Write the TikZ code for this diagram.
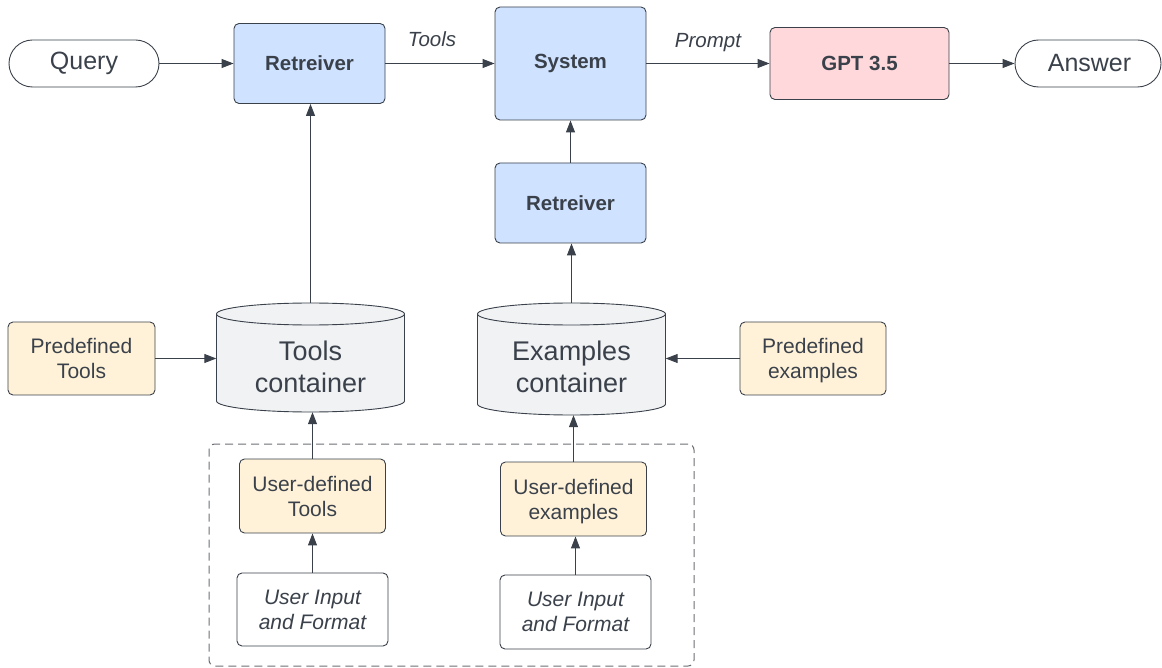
\documentclass[tikz,border=0pt]{standalone}
\usepackage{fontspec}
\setmainfont{Liberation Sans}
\usetikzlibrary{arrows.meta}
\definecolor{ink}{HTML}{3A414A}
\definecolor{bluefill}{HTML}{CFE2FF}
\definecolor{pinkfill}{HTML}{FFD8DB}
\definecolor{yellowfill}{HTML}{FFF2D9}
\definecolor{grayfill}{HTML}{F1F2F4}
\definecolor{dashcol}{HTML}{6B6F75}
\begin{document}
\begin{tikzpicture}[x=1pt,y=-1pt,
  every node/.style={text=ink, align=center, inner sep=0pt},
  box/.style={draw=ink, line width=0.9pt, rounded corners=5pt, font=\fontsize{21}{25}\selectfont},
  bluebox/.style={box, fill=bluefill, font=\fontsize{20.5}{25}\selectfont\bfseries},
  yellowbox/.style={box, fill=yellowfill},
  whitebox/.style={box, fill=white, font=\fontsize{21}{25}\selectfont\itshape},
  stadium/.style={draw=ink, line width=0.9pt, rounded corners=23.5pt, minimum width=150pt, minimum height=47pt, font=\fontsize{25}{30}\selectfont},
  cyl/.style={minimum width=188pt, font=\fontsize{27}{32}\selectfont},
  conn/.style={draw=ink, line width=1pt, -{Triangle[length=12pt,width=9pt]}},
  lbl/.style={font=\fontsize{20.5}{25}\selectfont\itshape}
]
\useasboundingbox (0,0) rectangle (1162,668);

% dashed group
\node[draw=dashcol, line width=1pt, dash pattern=on 8pt off 5pt, rounded corners=6pt,
  minimum width=485pt, minimum height=222pt] (grp) at (451.5,555) {};

% cylinders
\fill[grayfill] (216.5,401) arc[start angle=180,end angle=360,x radius=94pt,y radius=11pt]
  -- (404.5,314) arc[start angle=0,end angle=180,x radius=94pt,y radius=11pt] -- cycle;
\draw[ink, line width=0.9pt] (216.5,314) -- (216.5,401) arc[start angle=180,end angle=360,x radius=94pt,y radius=11pt] -- (404.5,314);
\draw[ink, line width=0.9pt] (310.5,314) ellipse[x radius=94pt,y radius=11pt];

\fill[grayfill] (477.5,404) arc[start angle=180,end angle=360,x radius=94pt,y radius=11pt]
  -- (665.5,314) arc[start angle=0,end angle=180,x radius=94pt,y radius=11pt] -- cycle;
\draw[ink, line width=0.9pt] (477.5,314) -- (477.5,404) arc[start angle=180,end angle=360,x radius=94pt,y radius=11pt] -- (665.5,314);
\draw[ink, line width=0.9pt] (571.5,314) ellipse[x radius=94pt,y radius=11pt];

\node[cyl, minimum height=109pt] (tc) at (310.5,357.5) {};
\node[font=\fontsize{27}{32}\selectfont] (tctext) at (310.5,367) {Tools\\container};
\node[cyl, minimum height=112pt] (ec) at (571.5,359) {};
\node[font=\fontsize{27}{32}\selectfont] (ectext) at (571.5,367) {Examples\\container};

% top row
\node[stadium] (query) at (84,63.5) {Query};
\node[bluebox, minimum width=151pt, minimum height=80pt] (ret1) at (309.5,63.5) {Retreiver};
\node[bluebox, minimum width=151pt, minimum height=113pt] (sys) at (570.5,63.5) {System};
\node[box, fill=pinkfill, font=\fontsize{20.5}{25}\selectfont\bfseries, minimum width=179pt, minimum height=72pt] (gpt) at (859.5,63.5) {GPT 3.5};
\node[stadium, minimum width=146pt] (ans) at (1088,63.5) {\hspace{3pt}Answer};

\node[bluebox, minimum width=151pt, minimum height=80pt] (ret2) at (570.5,203) {Retreiver};

% side boxes
\node[yellowbox, minimum width=147pt, minimum height=73pt] (pt) at (81.5,358.5) {Predefined\\Tools};
\node[yellowbox, minimum width=146pt, minimum height=73pt] (pe) at (813,358.5) {\raisebox{-2.5pt}[\height][\depth]{\parbox{140pt}{\centering Predefined\\examples}}};

% group contents
\node[yellowbox, minimum width=146pt, minimum height=74pt] (ud1) at (312.5,496) {User-defined\\Tools};
\node[yellowbox, minimum width=146pt, minimum height=74pt] (ud2) at (573.5,499) {\raisebox{-2.5pt}[\height][\depth]{\parbox{140pt}{\centering User-defined\\examples}}};
\node[whitebox, minimum width=151pt, minimum height=73pt] (ui1) at (312.5,609.5) {User Input\\and Format};
\node[whitebox, minimum width=151pt, minimum height=74pt] (ui2) at (575.5,612) {User Input\\and Format};

% connectors
\draw[conn] (query.east) -- (query.east -| ret1.west);
\draw[conn] (ret1.east) -- (ret1.east -| sys.west) node[lbl, midway, above=16pt, xshift=-8pt] {Tools};
\draw[conn] (sys.east) -- (sys.east -| gpt.west) node[lbl, midway, above=11pt] {Prompt};
\draw[conn] (gpt.east) -- (gpt.east -| ans.west);
\draw[conn] (tc.north) -- (tc.north |- ret1.south);
\draw[conn] (ec.north) -- (ec.north |- ret2.south);
\draw[conn] (ret2.north) -- (ret2.north |- sys.south);
\draw[conn] (pt.east) -- (pt.east -| tc.west);
\draw[conn] (pe.west) -- (pe.west -| ec.east);
\draw[conn] (ud1.north) -- (ud1.north |- tc.south);
\draw[conn] (ui1.north) -- (ui1.north |- ud1.south);
\draw[conn] (ud2.north) -- (ud2.north |- ec.south);
\draw[conn] (ui2.north) -- (ui2.north |- ud2.south);
\end{tikzpicture}
\end{document}
